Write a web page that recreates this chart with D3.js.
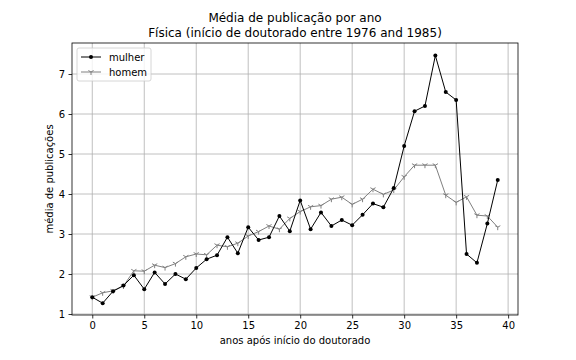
<!DOCTYPE html>
<html>
<head>
<meta charset="utf-8">
<script src="https://cdn.jsdelivr.net/npm/d3@7"></script>
<style>
  body { margin: 0; background: #fff; }
  text { font-family: "DejaVu Sans", sans-serif; fill: #000; }
</style>
</head>
<body>
<div id="chart-area"></div>
<script>
// Data
const anos = d3.range(0, 40);
const mulher = [1.42, 1.27, 1.57, 1.71, 1.97, 1.62, 2.04, 1.75, 2.0, 1.87,
  2.15, 2.37, 2.47, 2.92, 2.52, 3.17, 2.85, 2.92, 3.45, 3.07,
  3.84, 3.12, 3.54, 3.2, 3.35, 3.22, 3.48, 3.76, 3.67, 4.15,
  5.2, 6.07, 6.2, 7.46, 6.55, 6.35, 2.5, 2.28, 3.26, 4.35];
const homem = [1.42, 1.53, 1.58, 1.7, 2.08, 2.07, 2.22, 2.16, 2.26, 2.43,
  2.5, 2.48, 2.72, 2.68, 2.77, 2.95, 3.06, 3.2, 3.12, 3.39,
  3.56, 3.68, 3.71, 3.87, 3.92, 3.74, 3.87, 4.12, 3.99, 4.1,
  4.43, 4.72, 4.72, 4.72, 3.97, 3.79, 3.93, 3.47, 3.45, 3.17];
const xTicks = [0, 5, 10, 15, 20, 25, 30, 35, 40];
const yTicks = [1, 2, 3, 4, 5, 6, 7];

// Dimensions
const W = 576, H = 360;
const margin = { left: 72, right: 58, top: 43, bottom: 45 };
const width = W - margin.left - margin.right;
const height = H - margin.top - margin.bottom;

const svg = d3.select("#chart-area")
  .append("svg")
    .attr("width", W)
    .attr("height", H);

const chart = svg.append("g")
  .attr("transform", "translate(" + margin.left + "," + margin.top + ")");

// scales with matplotlib-like 5% margins
const xScale = d3.scaleLinear()
  .domain([-1.95, 40.95])
  .range([0, width]);

const yScale = d3.scaleLinear()
  .domain([0.975, 7.775])
  .range([height, 0]);

// grid
chart.append("g").selectAll("line").data(xTicks).join("line")
  .attr("x1", d => xScale(d)).attr("x2", d => xScale(d))
  .attr("y1", 0).attr("y2", height)
  .attr("stroke", "#b0b0b0").attr("stroke-width", 0.8);
chart.append("g").selectAll("line").data(yTicks).join("line")
  .attr("x1", 0).attr("x2", width)
  .attr("y1", d => yScale(d)).attr("y2", d => yScale(d))
  .attr("stroke", "#b0b0b0").attr("stroke-width", 0.8);

// axes
const xAxis = chart.append("g")
  .attr("transform", "translate(0," + height + ")")
  .call(d3.axisBottom(xScale).tickValues(xTicks).tickFormat(d3.format("d"))
    .tickSize(3.5).tickPadding(3.5));
const yAxis = chart.append("g")
  .call(d3.axisLeft(yScale).tickValues(yTicks).tickFormat(d3.format("d"))
    .tickSize(3.5).tickPadding(3.5));
[xAxis, yAxis].forEach(a => {
  a.select(".domain").remove();
  a.selectAll("line").attr("stroke", "#000").attr("stroke-width", 0.8);
  a.selectAll("text").attr("font-size", "10px").attr("font-family", "DejaVu Sans");
});

// lines
const line = d3.line()
  .x((d, i) => xScale(anos[i]))
  .y(d => yScale(d));

chart.append("path")
  .datum(homem)
  .attr("fill", "none")
  .attr("stroke", "#808080")
  .attr("stroke-width", 1)
  .attr("d", line);

// tri_down markers
const tri = "M0,0L0,3M0,0L-2.6,-1.5M0,0L2.6,-1.5";
chart.append("g").selectAll("path").data(homem).join("path")
  .attr("transform", (d, i) => "translate(" + xScale(anos[i]) + "," + yScale(d) + ")")
  .attr("d", tri)
  .attr("stroke", "#808080")
  .attr("fill", "none")
  .attr("stroke-width", 1);

chart.append("path")
  .datum(mulher)
  .attr("fill", "none")
  .attr("stroke", "#000")
  .attr("stroke-width", 1)
  .attr("d", line);

chart.append("g").selectAll("circle").data(mulher).join("circle")
  .attr("cx", (d, i) => xScale(anos[i]))
  .attr("cy", d => yScale(d))
  .attr("r", 2)
  .attr("fill", "#000");

// frame
chart.append("rect")
  .attr("width", width).attr("height", height)
  .attr("fill", "none").attr("stroke", "#000").attr("stroke-width", 0.8);

// title
svg.append("text")
  .attr("x", margin.left + width / 2).attr("y", 22)
  .attr("text-anchor", "middle").attr("font-size", "12px")
  .text("Média de publicação por ano");
svg.append("text")
  .attr("x", margin.left + width / 2).attr("y", 37)
  .attr("text-anchor", "middle").attr("font-size", "12px")
  .text("Física (início de doutorado entre 1976 and 1985)");

// axis labels
svg.append("text")
  .attr("x", margin.left + width / 2).attr("y", 344)
  .attr("text-anchor", "middle").attr("font-size", "10px")
  .text("anos após início do doutorado");
svg.append("text")
  .attr("transform", "translate(53," + (margin.top + height / 2) + ") rotate(-90)")
  .attr("text-anchor", "middle").attr("font-size", "10px")
  .text("média de publicações");

// legend
const legend = chart.append("g").attr("transform", "translate(5,5)");
legend.append("rect")
  .attr("width", 74).attr("height", 33).attr("rx", 2)
  .attr("fill", "#fff").attr("fill-opacity", 0.8)
  .attr("stroke", "#cccccc").attr("stroke-width", 0.8);
const series = [
  { name: "mulher", color: "#000", marker: "dot" },
  { name: "homem", color: "#808080", marker: "tri" }
];
series.forEach((s, i) => {
  const yy = 9 + i * 15;
  legend.append("line")
    .attr("x1", 4).attr("x2", 24).attr("y1", yy).attr("y2", yy)
    .attr("stroke", s.color).attr("stroke-width", 1);
  if (s.marker === "dot") {
    legend.append("circle").attr("cx", 14).attr("cy", yy).attr("r", 2).attr("fill", s.color);
  } else {
    legend.append("path").attr("transform", "translate(14," + yy + ")")
      .attr("d", tri).attr("stroke", s.color).attr("fill", "none");
  }
  legend.append("text")
    .attr("x", 32).attr("y", yy + 3.5)
    .attr("font-size", "10px")
    .text(s.name);
});
</script>
</body>
</html>
